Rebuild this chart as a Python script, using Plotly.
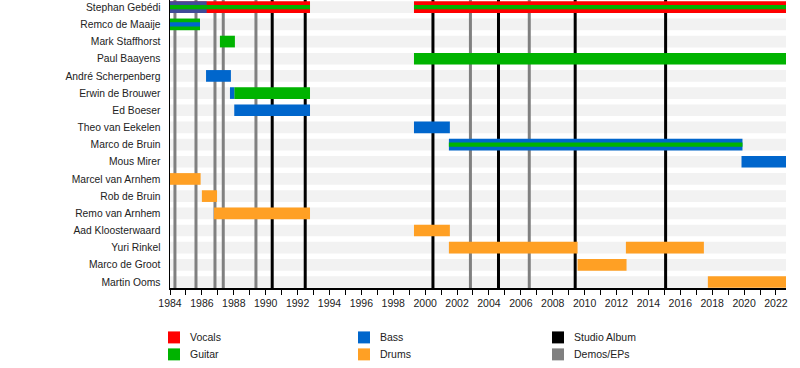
import plotly.graph_objects as go

# ---------------- data ----------------
members = ["Stephan Gebédi", "Remco de Maaije", "Mark Staffhorst", "Paul Baayens",
           "André Scherpenberg", "Erwin de Brouwer", "Ed Boeser", "Theo van Eekelen",
           "Marco de Bruin", "Mous Mirer", "Marcel van Arnhem", "Rob de Bruin",
           "Remo van Arnhem", "Aad Kloosterwaard", "Yuri Rinkel", "Marco de Groot",
           "Martin Ooms"]

# main (full height) role bars
bar_member = ["Stephan Gebédi", "Stephan Gebédi", "Remco de Maaije", "Mark Staffhorst",
              "Paul Baayens", "André Scherpenberg", "Erwin de Brouwer", "Erwin de Brouwer",
              "Ed Boeser", "Theo van Eekelen", "Marco de Bruin", "Mous Mirer",
              "Marcel van Arnhem", "Rob de Bruin", "Remo van Arnhem", "Aad Kloosterwaard",
              "Yuri Rinkel", "Yuri Rinkel", "Marco de Groot", "Martin Ooms",
              "Stephan Gebédi"]
bar_start = [1984.0, 1999.3, 1984.0, 1987.13, 1999.3, 1986.26, 1987.76, 1988.03,
             1988.03, 1999.3, 2001.49, 2019.84, 1984.0, 1986.0, 1986.76, 1999.3,
             2001.49, 2012.59, 2009.56, 2017.73, 1984.0]
bar_end = [1992.78, 2022.63, 1985.88, 1988.07, 2022.63, 1987.82, 1988.03, 1992.78,
           1992.78, 2001.55, 2019.9, 2022.63, 1985.92, 1986.95, 1992.78, 2001.55,
           2009.56, 2017.48, 2012.63, 2022.63, 1986.3]
bar_role = ["Vocals", "Vocals", "Guitar", "Guitar", "Guitar", "Bass", "Bass", "Guitar",
            "Bass", "Bass", "Bass", "Bass", "Drums", "Drums", "Drums", "Drums",
            "Drums", "Drums", "Drums", "Drums", "Bass"]

# secondary (thin stripe) role bars
stripe_member = ["Stephan Gebédi", "Stephan Gebédi", "Remco de Maaije", "Marco de Bruin"]
stripe_start = [1984.0, 1999.3, 1984.0, 2001.49]
stripe_end = [1992.78, 2022.63, 1985.88, 2019.9]
stripe_role = ["Guitar", "Guitar", "Bass", "Guitar"]

# releases
album_years = [1990.41, 1992.48, 2000.49, 2004.6, 2009.41, 2015.08]
demo_years = [1984.31, 1985.63, 1986.82, 1987.34, 1989.39, 2002.84, 2006.53]

roles = ["Vocals", "Guitar", "Bass", "Drums"]
role_colors = {"Vocals": "#ff0000", "Guitar": "#00b300", "Bass": "#0066cc", "Drums": "#ffa024"}
legend_labels = ["Vocals", "Guitar", "Bass", "Drums", "Studio Album", "Demos/EPs"]
legend_colors = ["#ff0000", "#00b300", "#0066cc", "#ffa024", "#000000", "#808080"]

x_start, x_end = 1984.0, 2022.63
y_top, y_bottom = -0.42, 16.35
# ---------------------------------------

row = {m: i for i, m in enumerate(members)}
FULL_W = 0.68
STRIPE_W = 0.25

fig = go.Figure()

def add_bars(mem, st, en, rl, width, role, opacity=1.0, only_idx=None):
    idx = [k for k in range(len(mem)) if rl[k] == role and (only_idx is None or only_idx(k))]
    if not idx:
        return
    fig.add_trace(go.Bar(
        orientation="h",
        y=[row[mem[k]] for k in idx],
        x=[en[k] - st[k] for k in idx],
        base=[st[k] for k in idx],
        width=width,
        marker=dict(color=role_colors[role], line=dict(width=0)),
        opacity=opacity,
        showlegend=False, hoverinfo="skip"))

# full bars (last Stephan bass overlaid semi-transparent on vocals)
last = len(bar_member) - 1
for r in roles:
    add_bars(bar_member, bar_start, bar_end, bar_role, FULL_W, r, only_idx=lambda k: k != last)
add_bars(bar_member, bar_start, bar_end, bar_role, FULL_W, bar_role[last], opacity=0.75,
         only_idx=lambda k: k == last)
for r in roles:
    add_bars(stripe_member, stripe_start, stripe_end, stripe_role, STRIPE_W, r)

shapes = []
# background bands
for i in range(len(members)):
    shapes.append(dict(type="rect", xref="x", yref="y", x0=x_start, x1=x_end,
                       y0=i - FULL_W / 2, y1=i + FULL_W / 2,
                       fillcolor="#f2f2f2", line=dict(width=0), layer="below"))
for yv in demo_years:
    shapes.append(dict(type="line", xref="x", yref="y", x0=yv, x1=yv, y0=y_top, y1=y_bottom,
                       line=dict(color="#808080", width=3), layer="below"))
for yv in album_years:
    shapes.append(dict(type="line", xref="x", yref="y", x0=yv, x1=yv, y0=y_top, y1=y_bottom,
                       line=dict(color="#000000", width=3), layer="below"))

# legend (manual, 3 columns x 2 rows)
L, R, T, B = 170, 14, 0, 79.5
W, H = 800, 368
pw, ph = W - L - R, H - T - B
def px(x):
    return (x - L) / pw
def py(y):
    return 1 - (y - T) / ph

annotations = []
col_x = [168, 358, 552]
row_y = [338, 355]
for k, (lab, col) in enumerate(zip(legend_labels, legend_colors)):
    c, rr = k // 2, k % 2
    x0 = col_x[c]
    yc = row_y[rr]
    shapes.append(dict(type="rect", xref="paper", yref="paper",
                       x0=px(x0), x1=px(x0 + 12), y0=py(yc + 6), y1=py(yc - 6),
                       fillcolor=col, line=dict(width=0)))
    annotations.append(dict(xref="paper", yref="paper", x=px(x0 + 20), y=py(yc),
                            text=lab, showarrow=False, xanchor="left", yanchor="middle",
                            font=dict(size=10.5, color="#222222")))

fig.update_layout(
    width=W, height=H,
    margin=dict(l=L, r=R, t=T, b=B),
    paper_bgcolor="white", plot_bgcolor="white",
    barmode="overlay",
    shapes=shapes, annotations=annotations,
    font=dict(family="Liberation Sans, Arial, sans-serif", size=11, color="#222222"),
    xaxis=dict(range=[x_start, x_end], showgrid=False, zeroline=False,
               showline=True, linecolor="black", linewidth=1.5,
               ticks="outside", ticklen=5, tickcolor="black", tickwidth=1,
               tick0=1984, dtick=2, tickfont=dict(size=10.5, color="#222222"),
               minor=dict(dtick=1, tick0=1984, ticks="outside", ticklen=5,
                          tickcolor="black", tickwidth=1, showgrid=False)),
    yaxis=dict(range=[y_bottom, y_top], showgrid=False, zeroline=False,
               showline=True, linecolor="black", linewidth=1.5,
               tickvals=list(range(len(members))), ticktext=members,
               ticks="outside", ticklen=6, tickcolor="rgba(0,0,0,0)",
               tickfont=dict(size=10.3, color="#222222")),
    showlegend=False,
)

fig.write_html("out.html", config={"displayModeBar": False, "staticPlot": True},
               post_script="document.body.style.margin='0';")
